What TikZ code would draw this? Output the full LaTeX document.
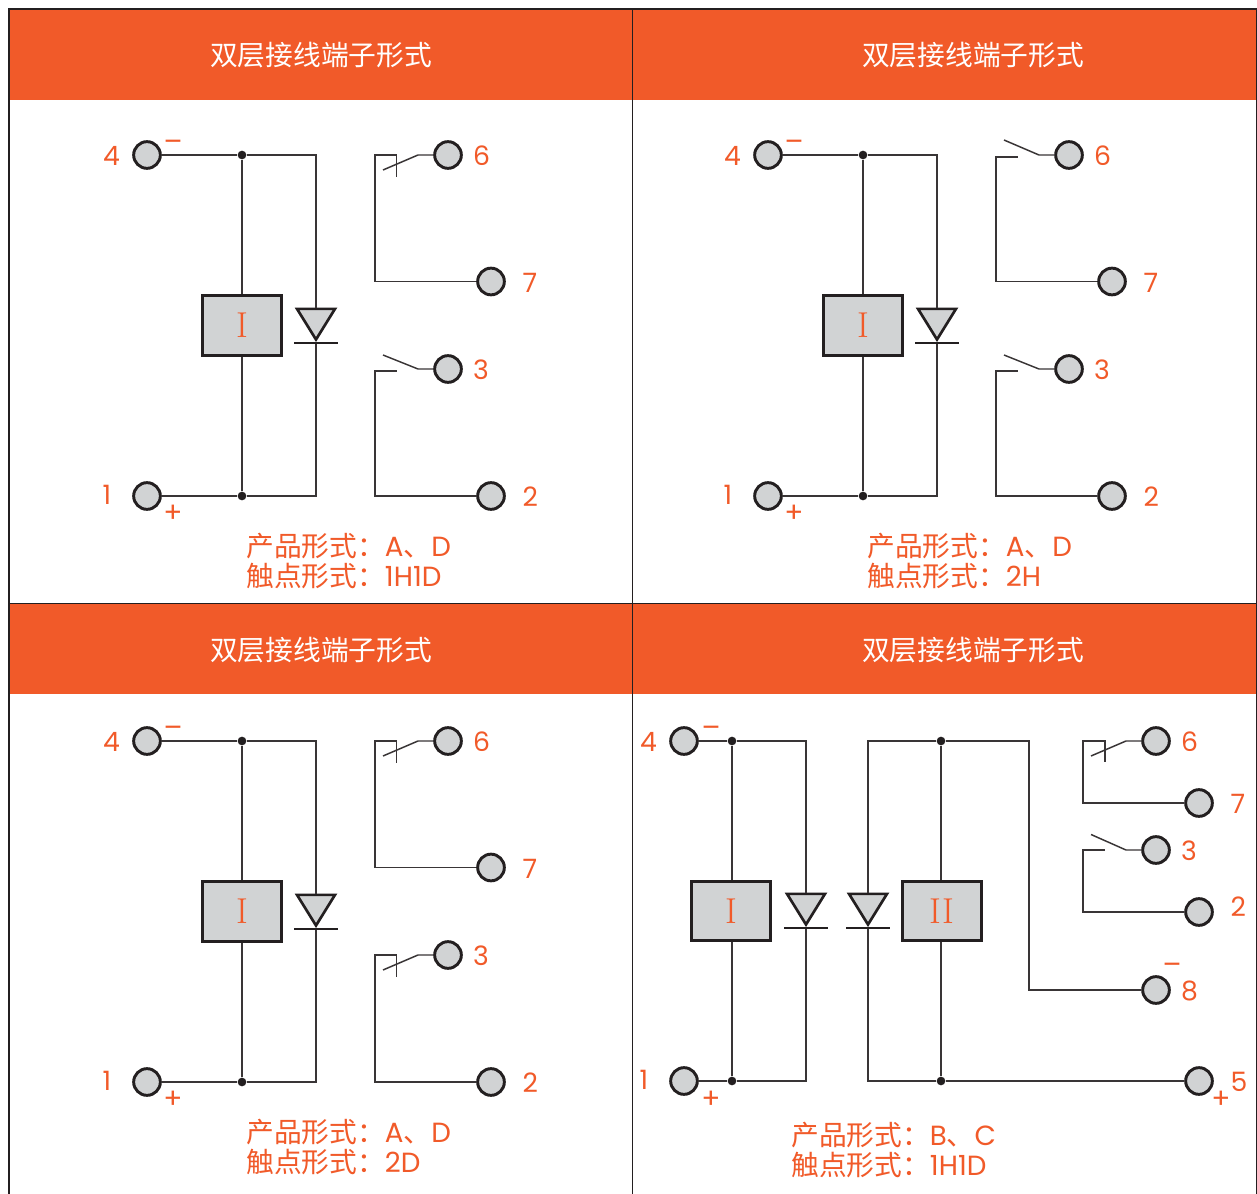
\documentclass[tikz,border=0pt]{standalone}
\usepackage{fontspec}
\usepackage{tikz}
\usetikzlibrary{positioning,shapes.geometric}
\newfontfamily\cjkfont{Noto Sans CJK SC}
\newfontfamily\numfont{Poppins}
\definecolor{headorange}{HTML}{F15A29}
\definecolor{partgray}{HTML}{D1D3D4}
\definecolor{inkdark}{HTML}{231F20}
\newcommand{\captext}[2]{{\cjkfont 产品形式：}#1\\{\cjkfont 触点形式：}#2}

\begin{document}
\begin{tikzpicture}[
    x=0.75pt,
    y=-0.75pt,
    wire/.style={
      draw=inkdark!90,
      line width=1.1pt,
      line join=miter
    },
    terminal/.style={
      circle,
      draw=inkdark,
      fill=partgray,
      line width=2.2pt,
      inner sep=0pt,
      minimum size=20pt
    },
    mydot/.style={
      circle,
      fill=inkdark,
      inner sep=0pt,
      minimum size=6.5pt
    },
    coilbox/.style={
      rectangle,
      draw=inkdark,
      fill=partgray,
      line width=2.4pt,
      inner sep=0pt,
      minimum width=59pt,
      minimum height=44.5pt,
      text=headorange,
      font=\fontsize{27}{30}\selectfont
    },
    diode/.style={
      isosceles triangle,
      isosceles triangle stretches,
      shape border rotate=-90,
      draw=inkdark,
      fill=partgray,
      line width=2pt,
      inner sep=0pt,
      minimum width=28.5pt,
      minimum height=23pt,
      anchor=apex
    },
    diodebar/.style={
      draw=inkdark,
      line width=1.8pt
    },
    numtext/.style={
      text=headorange,
      inner sep=0pt,
      yshift=-0.75pt,
      font=\numfont\fontsize{20}{22}\selectfont
    },
    signtext/.style={
      text=headorange,
      inner sep=0pt,
      font=\numfont\fontsize{21}{22}\selectfont
    },
    titletext/.style={
      text=white,
      font=\cjkfont\fontsize{20.8}{24}\selectfont
    },
    captiontext/.style={
      text=headorange,
      inner sep=0pt,
      anchor=west,
      align=left,
      font=\numfont\fontsize{20.8}{22.5}\selectfont
    }
    ]
    \useasboundingbox (0,0) rectangle (1257,1194);
    \fill[white] (0,0) rectangle (1257,1194);

    % headers and frame
    \fill[headorange] (9,9) rectangle (1257,100);
    \fill[headorange] (9,604) rectangle (1257,694);
    \draw[inkdark,line width=0.8pt] (9,1194) -- (9,9) -- (1256.5,9) -- (1256.5,1194);
    \draw[inkdark,line width=0.7pt] (632.5,9) -- (632.5,1194);
    \draw[inkdark,line width=0.8pt] (9,603.5) -- (1257,603.5);
    \node[titletext] (ta) at (321,55) {双层接线端子形式};
    \node[titletext] (tb) at (973,55) {双层接线端子形式};
    \node[titletext] (tc) at (321,650) {双层接线端子形式};
    \node[titletext] (td) at (973,650) {双层接线端子形式};

    % the three panels with one coil
    \foreach \p/\dx/\dy in {a/0/0,b/621/0,c/0/586} {
      \begin{scope}[shift={(\dx,\dy)}]
        \node[terminal] (\p4) at (147,155) {};
        \node[terminal] (\p1) at (147,496) {};
        \node[terminal] (\p6) at (448,155) {};
        \node[terminal] (\p7) at (491,281.5) {};
        \node[terminal] (\p3) at (448,369) {};
        \node[terminal] (\p2) at (491,496) {};
        \node[numtext,left=9pt of \p4] (\p4t) {4};
        \node[numtext,left=15.5pt of \p1,yshift=1.5pt] (\p1t) {1};
        \node[numtext,right=7.5pt of \p6] (\p6t) {6};
        \node[numtext,right=12.5pt of \p7] (\p7t) {7};
        \node[numtext,right=7.5pt of \p3] (\p3t) {3};
        \node[numtext,right=12.5pt of \p2] (\p2t) {2};
        \node[signtext] (\p4s) at (173,146) {–};
        \node[signtext] (\p1s) at (173,514) {+};
        \node[coilbox] (\p box) at (242,325.5) {I};
        \node[diode] (\p d) at (316,343) {};
        \node[mydot] (\p j4) at (242,155) {};
        \node[mydot] (\p j1) at (242,496) {};
        \draw[wire] (\p4) -- (\p j4);
        \draw[wire] (\p1) -- (\p j1);
        \draw[wire] (\p j4) -- (\p box);
        \draw[wire] (\p j1) -- (\p box);
        \draw[wire] (\p j4) -| (\p d.north);
        \draw[wire] (\p j1) -| (\p d.apex);
        \draw[diodebar] (\p d.apex) ++(-22,0) -- ++(44,0);
      \end{scope}
    }

    % contacts of panel a
    \draw[wire] (a6) -- (418,155) -- (383,170);
    \draw[wire] (a7) -| (375,155) -- (396.5,155) -- (396.5,177);
    \draw[wire] (a3) -- (418,369) -- (383,355);
    \draw[wire] (a2) -| (375,371) -- (396.5,371);

    % contacts of panel b
    \draw[wire] (b6) -- (1039,155) -- (1004,140);
    \draw[wire] (b7) -| (996,157) -- (1017.5,157);
    \draw[wire] (b3) -- (1039,369) -- (1004,355);
    \draw[wire] (b2) -| (996,371) -- (1017.5,371);

    % contacts of panel c
    \draw[wire] (c6) -- (418,741) -- (383,756);
    \draw[wire] (c7) -| (375,741) -- (396.5,741) -- (396.5,763);
    \draw[wire] (c3) -- (418,955) -- (383,970);
    \draw[wire] (c2) -| (375,955) -- (396.5,955) -- (396.5,977);

    % panel d
    \node[terminal] (d4) at (684,741) {};
    \node[terminal] (d1) at (684,1081) {};
    \node[terminal] (d6) at (1156,741) {};
    \node[terminal] (d7) at (1199,803) {};
    \node[terminal] (d3) at (1156,850) {};
    \node[terminal] (d2) at (1199,912) {};
    \node[terminal] (d8) at (1156,990) {};
    \node[terminal] (d5) at (1199,1081) {};
    \node[numtext,left=9pt of d4] (d4t) {4};
    \node[numtext,left=15.5pt of d1,yshift=1.5pt] (d1t) {1};
    \node[numtext,right=7.5pt of d6] (d6t) {6};
    \node[numtext,right=12.5pt of d7] (d7t) {7};
    \node[numtext,right=7.5pt of d3] (d3t) {3};
    \node[numtext,right=12.5pt of d2,yshift=5pt] (d2t) {2};
    \node[numtext,right=7.5pt of d8] (d8t) {8};
    \node[numtext,right=12.5pt of d5] (d5t) {5};
    \node[signtext] (d4s) at (711,732) {–};
    \node[signtext] (d1s) at (711,1100) {+};
    \node[signtext] (d8s) at (1172,969) {–};
    \node[signtext] (d5s) at (1221,1100) {+};
    \node[coilbox] (dboxa) at (731,911) {I};
    \node[coilbox] (dboxb) at (942,911) {II};
    \node[diode] (dda) at (806,928) {};
    \node[diode] (ddb) at (868,928) {};
    \node[mydot] (dj4) at (732,741) {};
    \node[mydot] (dj1) at (732,1081) {};
    \node[mydot] (dj5) at (941,741) {};
    \node[mydot] (dj6) at (941,1081) {};
    \draw[wire] (d4) -- (dj4);
    \draw[wire] (d1) -- (dj1);
    \draw[wire] (dj4) -- (dj4 |- dboxa.north);
    \draw[wire] (dj1) -- (dj1 |- dboxa.south);
    \draw[wire] (dj4) -| (dda.north);
    \draw[wire] (dj1) -| (dda.apex);
    \draw[wire] (dj5) -| (ddb.north);
    \draw[wire] (dj6) -| (ddb.apex);
    \draw[wire] (dj5) -- (dj5 |- dboxb.north);
    \draw[wire] (dj6) -- (dj6 |- dboxb.south);
    \draw[wire] (dj5) -- (1029,741) |- (d8);
    \draw[wire] (dj6) -- (d5);
    \draw[diodebar] (dda.apex) ++(-22,0) -- ++(44,0);
    \draw[diodebar] (ddb.apex) ++(-22,0) -- ++(44,0);
    \draw[wire] (d6) -- (1126,741) -- (1091,756);
    \draw[wire] (d7) -| (1083,741) -- (1105,741) -- (1105,762);
    \draw[wire] (d3) -- (1126,850) -- (1091,834.5);
    \draw[wire] (d2) -| (1083,850) -- (1105,850);

    % captions
    \node[captiontext] (capa) at (246,561) {\captext{A{\cjkfont 、}D}{1H1D}};
    \node[captiontext] (capb) at (867,561) {\captext{A{\cjkfont 、}D}{2H}};
    \node[captiontext] (capc) at (246,1147) {\captext{A{\cjkfont 、}D}{2D}};
    \node[captiontext] (capd) at (791,1150) {\captext{B{\cjkfont 、}C}{1H1D}};
\end{tikzpicture}
\end{document}
